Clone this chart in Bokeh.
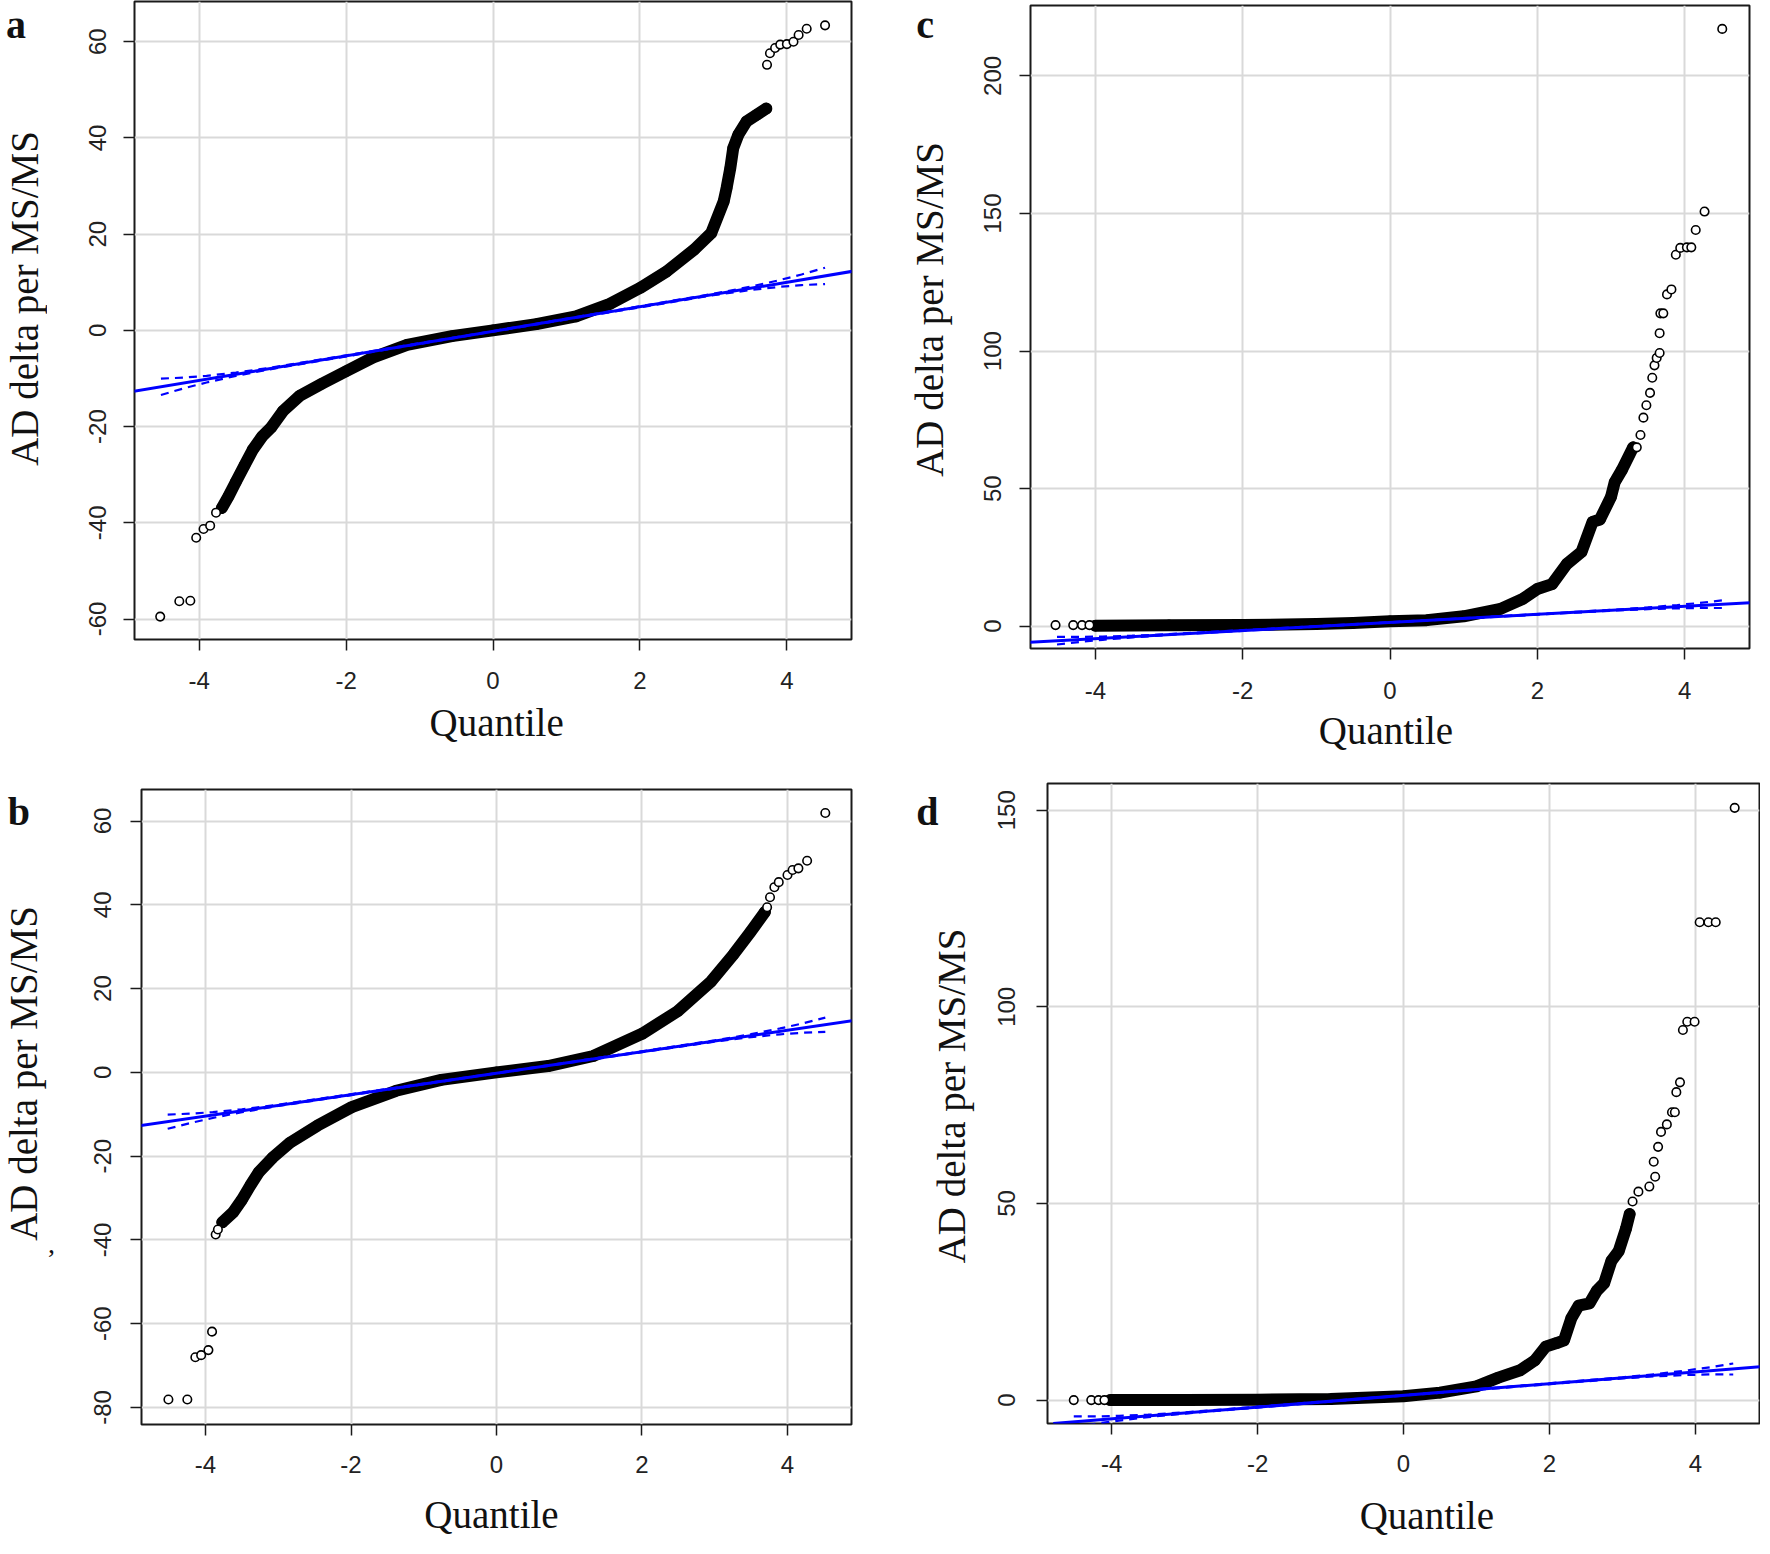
import math
from bokeh.plotting import figure
from bokeh.layouts import column, row
from bokeh.models import Slope, FixedTicker, Range1d
from bokeh.core.properties import value
from bokeh.embed import file_html
from bokeh.resources import INLINE

# ---------------- data ----------------
x_ticks = [-4, -2, 0, 2, 4]
a_y_ticks = [-60, -40, -20, 0, 20, 40, 60]
b_y_ticks = [-80, -60, -40, -20, 0, 20, 40, 60]
c_y_ticks = [0, 50, 100, 150, 200]
d_y_ticks = [0, 50, 100, 150]

y_title = "AD delta per MS/MS"
x_title = "Quantile"

# panel a
a_dense_q = [-3.69, -3.6, -3.5, -3.38, -3.27, -3.14, -3.02, -2.86, -2.63, -2.33, -2.0, -1.63, -1.17, -0.56, 0.0,
             0.59, 1.13, 1.59, 2.0, 2.36, 2.74, 2.97, 3.14, 3.18, 3.23, 3.27, 3.34, 3.45, 3.59, 3.72]
a_dense_v = [-36.9, -34.5, -31.5, -28.0, -24.8, -22.0, -20.2, -16.8, -13.6, -11.1, -8.5, -5.6, -3.0, -1.2, 0.0,
             1.3, 2.9, 5.5, 8.8, 12.2, 16.8, 20.2, 26.8, 29.6, 33.7, 37.9, 40.7, 43.4, 44.8, 46.1]
a_sparse_q = [-4.53, -4.27, -4.12, -4.04, -3.94, -3.85, -3.77, 3.73, 3.77, 3.84, 3.91, 4.0, 4.09, 4.16, 4.27, 4.52]
a_sparse_v = [-59.5, -56.3, -56.2, -43.1, -41.3, -40.6, -37.9, 55.2, 57.6, 58.7, 59.4, 59.5, 60.0, 61.4, 62.7, 63.4]
a_line = (2.55, -0.2)  # slope, intercept

# panel b
b_dense_q = [-3.77, -3.62, -3.5, -3.38, -3.27, -3.08, -2.84, -2.46, -1.99, -1.38, -0.76, 0.0, 0.71, 1.33, 2.0,
             2.49, 2.95, 3.26, 3.49, 3.69]
b_dense_v = [-35.8, -33.4, -30.4, -26.9, -23.9, -20.4, -16.8, -12.7, -8.3, -4.4, -1.8, 0.0, 1.5, 3.9, 9.2,
             14.6, 21.7, 28.2, 33.5, 38.3]
b_sparse_q = [-4.51, -4.25, -4.14, -4.06, -3.96, -3.91, -3.86, -3.83, 3.72, 3.76, 3.82, 3.88, 4.0, 4.07, 4.15,
              4.27, 4.52]
b_sparse_v = [-78.1, -78.1, -68.0, -67.5, -66.3, -61.9, -38.7, -37.5, 39.4, 41.8, 44.2, 45.4, 47.1, 48.3, 48.7,
              50.5, 61.9]
b_line = (2.56, -0.2)

# panel c
c_dense_q = [-4.0, -3.0, -2.0, -1.0, -0.5, 0.0, 0.5, 1.0, 1.5, 1.8, 2.0, 2.2, 2.4, 2.6, 2.75, 2.85, 3.0, 3.05,
             3.15, 3.3]
c_dense_v = [0.2, 0.3, 0.4, 0.8, 1.2, 1.8, 2.2, 3.6, 6.3, 9.9, 13.5, 15.3, 22.6, 27.0, 37.9, 38.8, 47.0, 52.3,
             56.9, 65.0]
c_sparse_q = [-4.54, -4.3, -4.18, -4.08, 3.35, 3.4, 3.44, 3.48, 3.53, 3.56, 3.59, 3.62, 3.66, 3.66, 3.67, 3.71,
              3.76, 3.82, 3.88, 3.94, 4.03, 4.09, 4.15, 4.27, 4.51]
c_sparse_v = [0.4, 0.4, 0.4, 0.4, 65.0, 69.5, 75.8, 80.3, 84.8, 90.3, 94.8, 97.5, 99.3, 106.5, 113.7, 113.7,
              120.6, 122.4, 135.0, 137.5, 137.7, 137.7, 144.0, 150.7, 217.1]
c_line = (1.467, 1.37)

# panel d
d_dense_q = [-4.02, -3.0, -2.0, -1.0, 0.0, 0.5, 1.0, 1.3, 1.6, 1.8, 1.95, 2.1, 2.2, 2.3, 2.4, 2.55, 2.65, 2.75,
             2.85, 2.95, 3.05, 3.1]
d_dense_v = [0.0, 0.05, 0.1, 0.25, 1.0, 1.9, 3.5, 5.7, 7.6, 10.1, 13.6, 14.5, 15.2, 20.8, 24.0, 24.6, 27.8, 29.7,
             35.4, 37.9, 43.6, 47.3]
d_sparse_q = [-4.52, -4.28, -4.18, -4.1, 3.14, 3.22, 3.37, 3.45, 3.43, 3.49, 3.53, 3.61, 3.68, 3.72, 3.74, 3.79,
              3.83, 3.89, 3.99, 4.06, 4.18, 4.28, 4.54]
d_sparse_v = [0.0, 0.0, 0.0, 0.0, 50.5, 53.0, 54.3, 56.8, 60.6, 64.4, 68.2, 70.1, 73.2, 73.2, 78.3, 80.8,
              94.1, 96.2, 96.2, 121.5, 121.5, 121.5, 150.6]
d_line = (1.487, 1.19)

# confidence envelope half-widths around the reference line
env_q = [-4.52, -4.2, -3.9, -3.5, -3.0, 0.0, 3.0, 3.5, 3.9, 4.2, 4.52]
a_env = [1.7, 1.1, 0.7, 0.35, 0.15, 0.05, 0.15, 0.35, 0.7, 1.1, 1.7]
b_env = [1.7, 1.1, 0.7, 0.35, 0.15, 0.05, 0.15, 0.35, 0.7, 1.1, 1.7]
c_env = [1.4, 0.9, 0.6, 0.3, 0.15, 0.05, 0.15, 0.3, 0.6, 0.9, 1.4]
d_env = [1.4, 0.9, 0.6, 0.3, 0.15, 0.05, 0.15, 0.3, 0.6, 0.9, 1.4]

SERIF = "Liberation Serif"
SANS = "Liberation Sans"
XR = (-4.88, 4.88)


def plain(width, height):
    s = figure(width=width, height=height, x_range=Range1d(0, width), y_range=Range1d(0, height),
               output_backend="svg", toolbar_location=None, x_axis_location=None, y_axis_location=None,
               min_border=0, min_border_left=0, min_border_right=0, min_border_top=0, min_border_bottom=0)
    s.grid.visible = False
    s.outline_line_color = None
    s.background_fill_color = "white"
    s.border_fill_color = "white"
    return s


def add_text(s, x, y, txt, size, angle=0.0, align="center", bold=False):
    s.text(x=[x], y=[y], text=[txt], angle=angle, text_font=value(SERIF), text_font_size=value(size),
           text_font_style="bold" if bold else "normal", text_color="#111111",
           text_align=align, text_baseline="alphabetic")


def left_strip(width, height, ylab_x, ylab_y, letter, let_x, let_y, comma=None):
    s = plain(width, height)
    add_text(s, ylab_x, ylab_y, y_title, "39px", angle=math.pi / 2)
    add_text(s, let_x, let_y, letter, "40px", align="left", bold=True)
    if comma:
        add_text(s, comma[0], comma[1], ",", "28px", align="left")
    return s


def bottom_strip(width, height, qx, qy):
    s = plain(width, height)
    add_text(s, qx, qy, x_title, "39px", align="left")
    return s


def make_panel(dense_q, dense_v, sparse_q, sparse_v, line, env, y_ticks,
               width, height, borders, y_rng, x_std, y_std):
    bl, br, bt, bb = borders
    p = figure(width=width, height=height, x_range=Range1d(*XR), y_range=Range1d(*y_rng),
               output_backend="svg", toolbar_location=None,
               min_border_left=bl, min_border_right=br, min_border_top=bt, min_border_bottom=bb)
    p.background_fill_color = "white"
    p.border_fill_color = "white"
    p.outline_line_color = "#1a1a1a"
    p.outline_line_width = 2
    for ax, ticks, std in ((p.xaxis, x_ticks, x_std), (p.yaxis, y_ticks, y_std)):
        ax.ticker = FixedTicker(ticks=ticks)
        ax.major_label_overrides = {t: str(t) for t in ticks}
        ax.axis_line_color = None
        ax.major_tick_in = 0
        ax.major_tick_out = 11
        ax.minor_tick_in = 0
        ax.minor_tick_out = 0
        ax.major_tick_line_color = "#1a1a1a"
        ax.major_tick_line_width = 1.5
        ax.major_label_text_font = SANS
        ax.major_label_text_font_size = "24px"
        ax.major_label_text_color = "#222222"
        ax.major_label_standoff = std
    p.yaxis.major_label_orientation = "vertical"
    p.xgrid.ticker = FixedTicker(ticks=x_ticks)
    p.ygrid.ticker = FixedTicker(ticks=y_ticks)
    for g in (p.xgrid, p.ygrid):
        g.grid_line_color = "#d9d9d9"
        g.grid_line_width = 2

    # points: dense band of overlapping circles + individual sparse circles
    p.line(dense_q, dense_v, line_width=12, line_color="black", line_join="round", line_cap="round")
    p.scatter(dense_q, dense_v, marker="circle", size=10, fill_color="black", line_color="black", line_width=1.5)
    p.scatter(sparse_q, sparse_v, marker="circle", size=8.5, fill_color="white", line_color="black",
              line_width=1.6)

    slope, icpt = line
    up = [icpt + slope * q + w for q, w in zip(env_q, env)]
    lo = [icpt + slope * q - w for q, w in zip(env_q, env)]
    p.line(env_q, up, line_color="#0000ff", line_width=2.2, line_dash="8 6")
    p.line(env_q, lo, line_color="#0000ff", line_width=2.2, line_dash="8 6")
    p.add_layout(Slope(gradient=slope, y_intercept=icpt, line_color="#0000ff", line_width=3))
    return p


# ---- row 1 : panels a and c ----
sa = left_strip(47, 752, 23.6, 454, "a", 5.6, 728)
pa = make_panel(a_dense_q, a_dense_v, a_sparse_q, a_sparse_v, a_line, a_env, a_y_ticks,
                833, 700, (87, 29, 1, 61), (-64.26, 68.36), 21, 17)
ba = bottom_strip(833, 52, 342.7, 30)

sc = left_strip(82, 752, 48.6, 443, "c", 35.7, 728)
pc = make_panel(c_dense_q, c_dense_v, c_sparse_q, c_sparse_v, c_line, c_env, c_y_ticks,
                795, 708, (68, 8, 5, 60), (-8.11, 225.6), 22, 18)
bc = bottom_strip(795, 44, 318.7, 22)

# ---- row 2 : panels b and d ----
sb = left_strip(65, 786, 22.5, 465, "b", 7.3, 727, comma=(47.5, 295))
pb = make_panel(b_dense_q, b_dense_v, b_sparse_q, b_sparse_v, b_line, b_env, b_y_ticks,
                815, 730, (76, 29, 37, 58), (-84.06, 67.52), 20, 19)
bb = bottom_strip(815, 56, 324.7, 24)

sd = left_strip(95, 786, 70.6, 442.5, "d", 35.7, 727)
pd_ = make_panel(d_dense_q, d_dense_v, d_sparse_q, d_sparse_v, d_line, d_env, d_y_ticks,
                 785, 729, (72, 1, 31, 58), (-5.95, 156.79), 20, 21)
bd = bottom_strip(785, 57, 344.2, 23.5)

row1 = row(sa, column(pa, ba, spacing=0), sc, column(pc, bc, spacing=0), spacing=0)
row2 = row(sb, column(pb, bb, spacing=0), sd, column(pd_, bd, spacing=0), spacing=0)
layout = column(row1, row2, spacing=0)

with open("out.html", "w") as f:
    f.write(file_html(layout, INLINE))
